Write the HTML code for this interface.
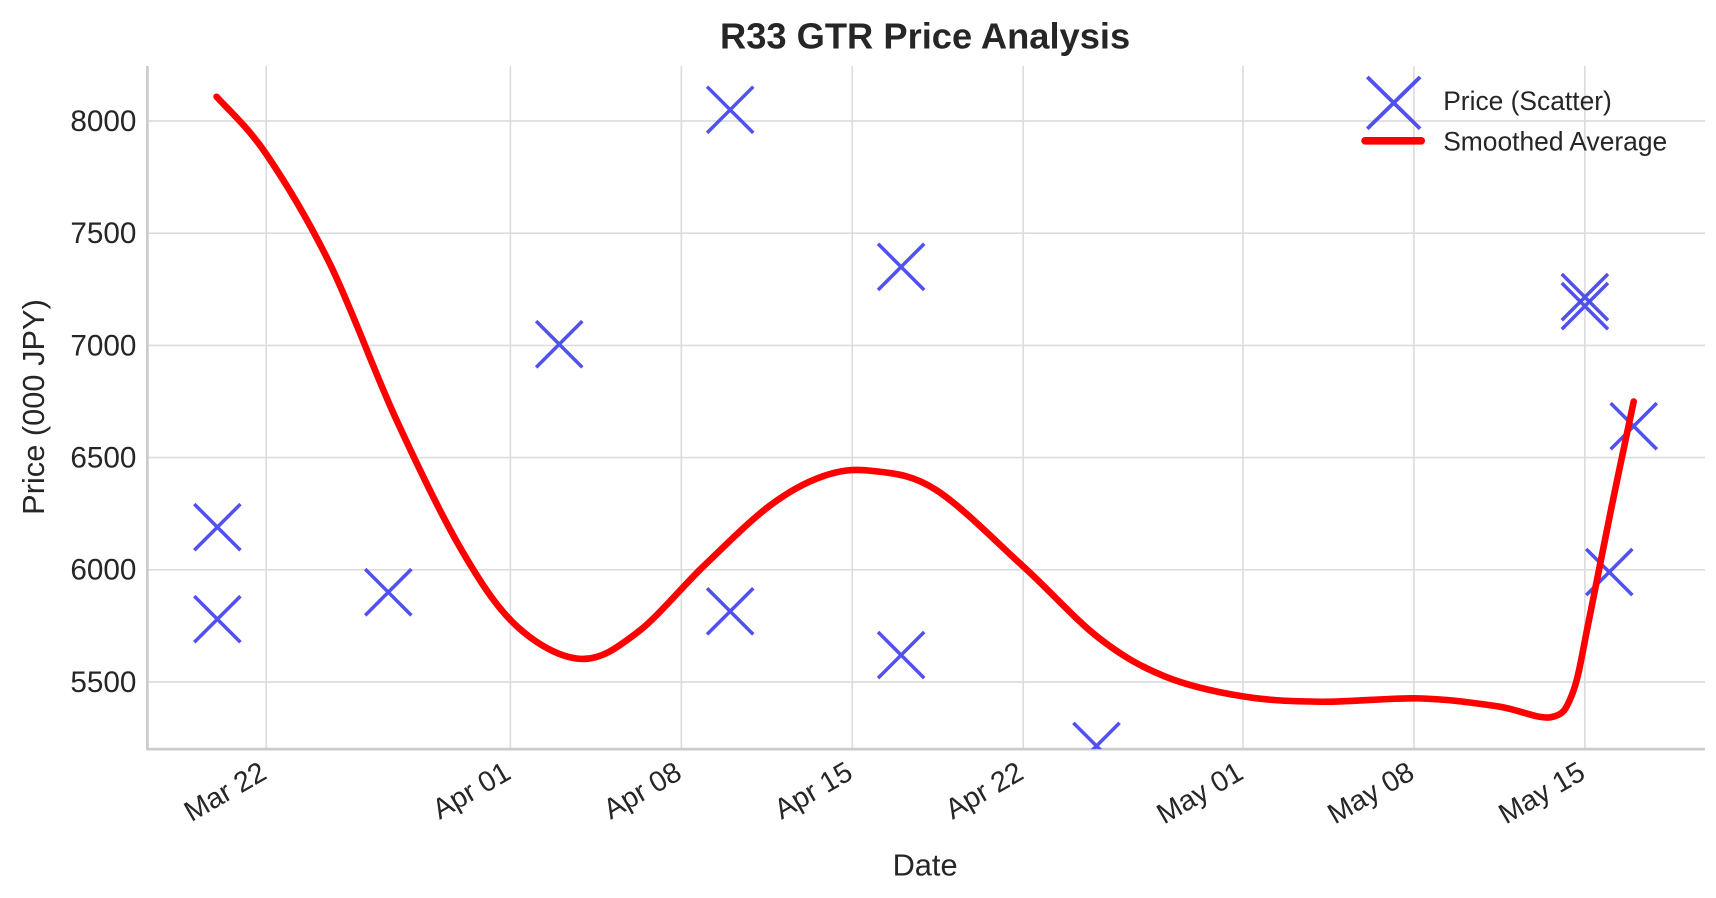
<!DOCTYPE html>
<html><head><meta charset="utf-8"><style>
html,body{margin:0;padding:0;background:#fff;}
svg{display:block;font-family:"Liberation Sans",sans-serif;}
</style></head><body>
<svg id="chart" width="1716" height="898" viewBox="0 0 1560 816.36" xmlns="http://www.w3.org/2000/svg">
<g id="grid"></g>
<g id="axes"></g>
<g id="marks"></g>
<text x="841" y="44" text-anchor="middle" font-size="33" font-weight="bold" fill="#262626">R33 GTR Price Analysis</text>
<text x="841" y="796" text-anchor="middle" font-size="28" fill="#262626">Date</text>
<text transform="translate(40,370) rotate(-90)" text-anchor="middle" font-size="28" fill="#262626">Price (000 JPY)</text>
<g>
<g>
<path d="M1243,70 L1291,117 M1291,70 L1243,117" stroke="#4848f0" stroke-width="3.5" opacity="0.95"/>
<text x="1312" y="100" font-size="24" fill="#262626">Price (Scatter)</text>
</g>
<g>
<line x1="1241" y1="128" x2="1292" y2="128" stroke="#ff0000" stroke-width="7" stroke-linecap="round"/>
<text x="1312" y="137" font-size="24" fill="#262626">Smoothed Average</text>
</g>
</g>
</svg>
<script>
const yTicks = [5500, 6000, 6500, 7000, 7500, 8000];
const xTickDays = [0, 10, 17, 24, 31, 40, 47, 54];
const xTickLabels = ["Mar 22", "Apr 01", "Apr 08", "Apr 15", "Apr 22", "May 01", "May 08", "May 15"];
const scatterDays = [-2, -2, 5, 12, 19, 19, 26, 26, 34, 54, 54, 55, 56];
const scatterPrices = [6190, 5780, 5900, 7005, 8050, 5815, 7350, 5620, 5215, 7215, 7175, 5990, 6640];
const smoothDays = [-2.03, 0, 2.61, 5.3, 8.0, 10.3, 12.9, 15.2, 17.9, 20.6, 22.8, 24.8, 27.4, 31.0, 34.1, 36.8, 40.0, 43.2, 47.2, 50.4, 52.6, 53.5, 54.2, 55.1, 56.0];
const smoothPrices = [8108, 7853, 7363, 6676, 6088, 5745, 5603, 5721, 6015, 6284, 6417, 6441, 6358, 6015, 5696, 5525, 5436, 5412, 5427, 5392, 5343, 5451, 5794, 6284, 6750];

const L=134,R=1550,T=60,B=681;
const xs=d=>242+d*22.2;
const ys=p=>110+(8000-p)*102/500;
const NS="http://www.w3.org/2000/svg";
function mk(tag,attrs,parent){const e=document.createElementNS(NS,tag);for(const k in attrs)e.setAttribute(k,attrs[k]);parent.appendChild(e);return e;}
const grid=document.getElementById('grid'),axes=document.getElementById('axes'),marks=document.getElementById('marks');
yTicks.forEach(v=>{
  const g=mk('line',{x1:L,x2:R,y1:ys(v),y2:ys(v),stroke:'#dddddd','stroke-width':1.5},grid);
  
  
  const t=mk('text',{x:124,y:ys(v)+9,'text-anchor':'end','font-size':27,fill:'#262626'},axes);
  t.textContent=v;
  
  
});
xTickDays.forEach((d,i)=>{
  const x=xs(d);
  const g=mk('line',{x1:x,x2:x,y1:T,y2:B,stroke:'#dddddd','stroke-width':1.5},grid);
  
  
  const t=mk('text',{transform:`translate(${x+2},${B+26}) rotate(-30)`,'text-anchor':'end','font-size':26,fill:'#262626'},axes);
  t.textContent=xTickLabels[i];
  
  
});
const s1=mk('line',{x1:L,x2:L,y1:T,y2:B+1,stroke:'#cccccc','stroke-width':2.5},axes);


const s2=mk('line',{x1:L-1,x2:R,y1:B,y2:B,stroke:'#cccccc','stroke-width':2.5},axes);



// smooth line via Catmull-Rom
const pts=smoothDays.map((d,i)=>[xs(d),ys(smoothPrices[i])]);
let dstr=`M${pts[0][0]},${pts[0][1]}`;
for(let i=0;i<pts.length-1;i++){
  const p0=pts[Math.max(0,i-1)],p1=pts[i],p2=pts[i+1],p3=pts[Math.min(pts.length-1,i+2)];
  const c1=[p1[0]+(p2[0]-p0[0])/6,p1[1]+(p2[1]-p0[1])/6];
  const c2=[p2[0]-(p3[0]-p1[0])/6,p2[1]-(p3[1]-p1[1])/6];
  dstr+=` C${c1[0]},${c1[1]} ${c2[0]},${c2[1]} ${p2[0]},${p2[1]}`;
}
const defs=mk('defs',{},marks);
const cp=mk('clipPath',{id:'clip'},defs);
mk('rect',{x:L,y:T,width:R-L,height:B-T},cp);
const sg=mk('g',{'clip-path':'url(#clip)'},marks);
scatterDays.forEach((d,i)=>{
  const x=xs(d),y=ys(scatterPrices[i]),s=21;
  const m=mk('path',{d:`M${x-s},${y-s} L${x+s},${y+s} M${x+s},${y-s} L${x-s},${y+s}`,stroke:'#4848f0','stroke-width':3.2,fill:'none',opacity:0.95},sg);
  
  
});
const line=mk('path',{d:dstr,stroke:'#ff0000','stroke-width':6,fill:'none','stroke-linecap':'round','stroke-linejoin':'round'},marks);


</script>
</body></html>
